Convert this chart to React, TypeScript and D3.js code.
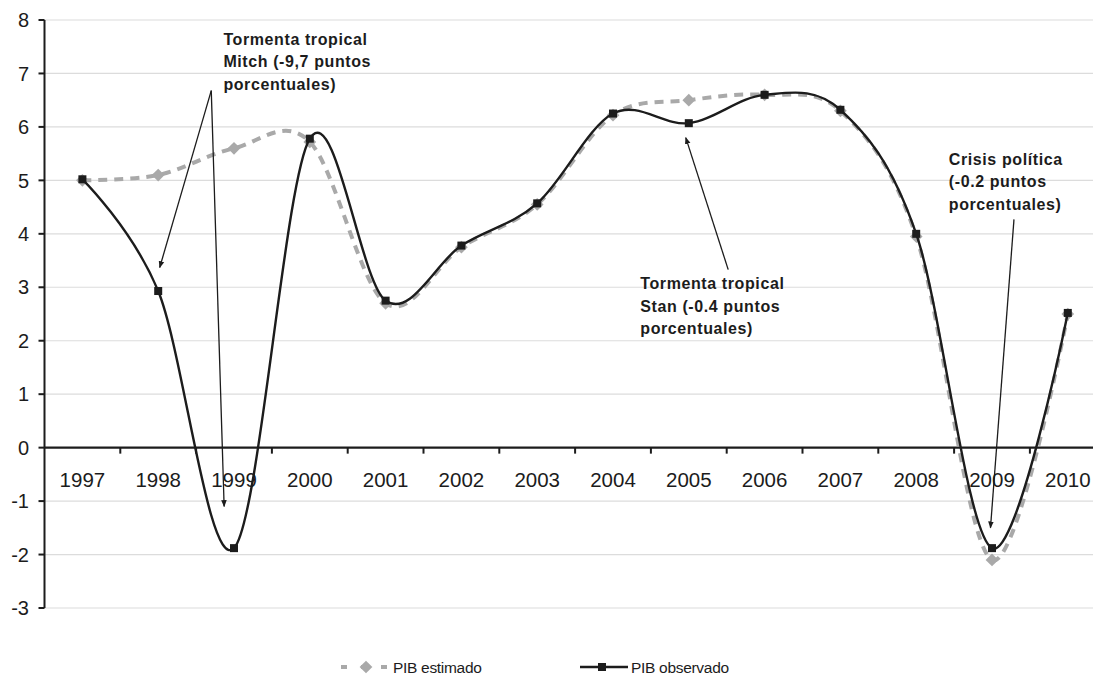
import * as d3 from 'd3';

const years = ['1997', '1998', '1999', '2000', '2001', '2002', '2003', '2004', '2005', '2006', '2007', '2008', '2009', '2010'];
const pibEstimado = [5.0, 5.1, 5.6, 5.72, 2.7, 3.75, 4.55, 6.22, 6.5, 6.6, 6.3, 3.95, -2.1, 2.5];
const pibObservado = [5.02, 2.93, -1.88, 5.78, 2.75, 3.78, 4.57, 6.25, 6.07, 6.6, 6.32, 4.0, -1.88, 2.52];
const yTicks = [-3, -2, -1, 0, 1, 2, 3, 4, 5, 6, 7, 8];

// annotation anchors in data space: [year index, value]
const annotations = [
    {
        lines: ['Tormenta tropical', 'Mitch (-9,7 puntos', 'porcentuales)'],
        text: [1.86, 7.54],
        arrows: [
            { from: [1.70, 6.68], to: [1.02, 3.37] },
            { from: [1.70, 6.68], to: [1.87, -1.1] },
        ],
    },
    {
        lines: ['Tormenta tropical', 'Stan (-0.4 puntos', 'porcentuales)'],
        text: [7.36, 2.96],
        arrows: [{ from: [8.52, 3.33], to: [7.96, 5.8] }],
    },
    {
        lines: ['Crisis política', '(-0.2 puntos', 'porcentuales)'],
        text: [11.43, 5.29],
        arrows: [{ from: [12.29, 4.27], to: [11.98, -1.5] }],
    },
];

const width = 1093;
const height = 677;
const left = 44.5;
const step = 75.8;
const grey = '#a9a9a9';
const ink = '#1c1c1c';
const font = '"Liberation Sans", Arial, sans-serif';

export default function App() {
    const x = d3.scaleBand<string>()
        .domain(years)
        .range([left, left + step * years.length]);
    const cx = (i: number) => x(years[0])! + x.bandwidth() / 2 + i * x.step();

    const y = d3.scaleLinear().domain([-3, 8]).range([608, 20]);

    const line = d3.line<number>()
        .x((_, i) => cx(i))
        .y(d => y(d))
        .curve(d3.curveCardinal.tension(0));

    const boundaries = d3.range(1, years.length).map(i => left + i * x.step());

    return (
        <svg width={width} height={height} style={{ position: 'absolute', left: 0, top: 0, background: '#fff' }} fontFamily={font}>
            <defs>
                <marker id="arrow" viewBox="0 0 10 10" refX="9" refY="5" markerWidth="7" markerHeight="7" orient="auto" markerUnits="userSpaceOnUse">
                    <path d="M0,1 L10,5 L0,9 z" fill={ink} />
                </marker>
            </defs>

            {yTicks.filter(t => t !== 0).map(t => (
                <line key={t} x1={left} x2={width + 20} y1={y(t)} y2={y(t)} stroke="#dcdcdc" strokeWidth={1.2} />
            ))}

            {/* y axis */}
            <line x1={left} x2={left} y1={y(8)} y2={y(-3)} stroke={ink} strokeWidth={2} />
            {yTicks.map(t => (
                <g key={t}>
                    <line x1={left - 6} x2={left} y1={y(t)} y2={y(t)} stroke={ink} strokeWidth={2} />
                    <text x={29} y={y(t)} dy="0.36em" textAnchor="end" fontSize={20} fill={ink}>{t}</text>
                </g>
            ))}

            {/* category axis at zero */}
            <line x1={left} x2={width + 20} y1={y(0)} y2={y(0)} stroke={ink} strokeWidth={2.2} />
            {boundaries.map(b => (
                <line key={b} x1={b} x2={b} y1={y(0)} y2={y(0) + 6} stroke={ink} strokeWidth={2} />
            ))}
            {years.map((yr, i) => (
                <text key={yr} x={cx(i)} y={487} textAnchor="middle" fontSize={20.5} fill={ink}>{yr}</text>
            ))}

            {/* PIB estimado */}
            <path d={line(pibEstimado)!} fill="none" stroke={grey} strokeWidth={4} strokeDasharray="9,7" />
            {pibEstimado.map((v, i) => (
                <rect key={i} x={cx(i) - 4.5} y={y(v) - 4.5} width={9} height={9} fill={grey}
                    transform={`rotate(45 ${cx(i)} ${y(v)})`} />
            ))}

            {/* PIB observado */}
            <path d={line(pibObservado)!} fill="none" stroke={ink} strokeWidth={2.4} />
            {pibObservado.map((v, i) => (
                <rect key={i} x={cx(i) - 4} y={y(v) - 4} width={8} height={8} fill={ink} />
            ))}

            {/* annotations */}
            {annotations.map((a, k) => (
                <g key={k}>
                    {a.arrows.map((ar, j) => (
                        <line key={j}
                            x1={cx(ar.from[0])} y1={y(ar.from[1])}
                            x2={cx(ar.to[0])} y2={y(ar.to[1])}
                            stroke={ink} strokeWidth={1.3} markerEnd="url(#arrow)" />
                    ))}
                    <text x={cx(a.text[0])} y={y(a.text[1])} fontSize={16} fontWeight="bold" letterSpacing={0.6} fill={ink}>
                        {a.lines.map((l, j) => (
                            <tspan key={j} x={cx(a.text[0])} dy={j === 0 ? 0 : 22.5}>{l}</tspan>
                        ))}
                    </text>
                </g>
            ))}

            {/* legend */}
            <g transform="translate(0,667)">
                <line x1={341} x2={389} y1={0} y2={0} stroke={grey} strokeWidth={4} strokeDasharray="6,14" />
                <rect x={361.5} y={-4.5} width={9} height={9} fill={grey} transform="rotate(45 366 0)" />
                <text x={393} y={0} dy="0.36em" fontSize={15.5} fill={ink} letterSpacing={-0.3}>PIB estimado</text>
                <line x1={580} x2={628} y1={0} y2={0} stroke={ink} strokeWidth={2.4} />
                <rect x={598} y={-4} width={8} height={8} fill={ink} />
                <text x={631} y={0} dy="0.36em" fontSize={15.5} fill={ink} letterSpacing={-0.3}>PIB observado</text>
            </g>
        </svg>
    );
}
